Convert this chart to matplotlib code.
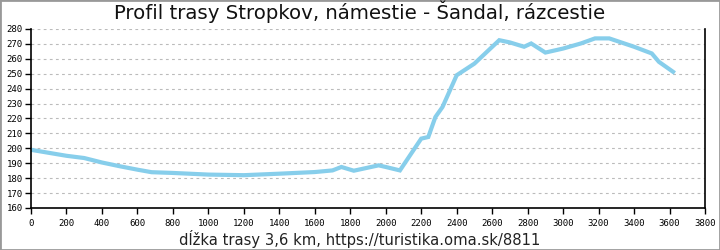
import matplotlib
matplotlib.use("Agg")
import matplotlib.pyplot as plt
from matplotlib.patches import Rectangle

# distance along route (m) and elevation (m)
dist = [0, 100, 200, 300, 400, 500, 600, 680, 800, 1000, 1200, 1400, 1600,
        1700, 1750, 1820, 1960, 2000, 2080, 2200, 2240, 2280, 2320, 2400,
        2500, 2540, 2640, 2700, 2780, 2820, 2900, 3000, 3100, 3180, 3260,
        3400, 3500, 3540, 3620]
elev = [199, 197, 195, 193.5, 190.5, 188, 185.7, 184, 183.5, 182.4, 182, 183,
        184.1, 185.2, 187.5, 185, 188.6, 187.5, 185.2, 206.5, 207.6, 221,
        227.7, 249, 256.8, 261.3, 272.5, 271, 268.1, 270.3, 264.2, 266.9,
        270.3, 273.7, 273.7, 268.1, 263.6, 258, 251.3]

xticks = list(range(0, 3801, 200))
yticks = list(range(160, 281, 10))

fig = plt.figure(figsize=(7.2, 2.5), dpi=100)
ax = fig.add_axes([31 / 720, 42 / 250, 674 / 720, 179 / 250])

ax.plot(dist, elev, color="#87CEEB", lw=3.0, solid_joinstyle="miter")

ax.set_xlim(0, 3800)
ax.set_ylim(160, 280)
ax.set_xticks(xticks)
ax.set_yticks(yticks)
ax.tick_params(direction="out", length=4, width=1, labelsize=6.5, pad=2)
for lab in ax.get_xticklabels() + ax.get_yticklabels():
    lab.set_family("DejaVu Sans Mono")
ax.tick_params(axis="x", pad=4)
ax.grid(axis="y", color="#bbbbbb", ls=(0, (2.5, 3)), lw=0.8)
ax.spines["top"].set_visible(False)
for s in ("left", "bottom", "right"):
    ax.spines[s].set_linewidth(1.2)

fig.text(0.5, 0.952, "Profil trasy Stropkov, námestie - Šandal, rázcestie",
         ha="center", va="center", fontsize=14.2, color="#111111")
fig.text(0.5, 0.045, "dĺžka trasy 3,6 km, https://turistika.oma.sk/8811",
         ha="center", va="center", fontsize=10.6, color="#222222")

fig.patches.append(Rectangle((0, 0), 1, 1, transform=fig.transFigure,
                             fill=False, edgecolor="#999999", lw=2))

fig.savefig("out.png", dpi=100)
